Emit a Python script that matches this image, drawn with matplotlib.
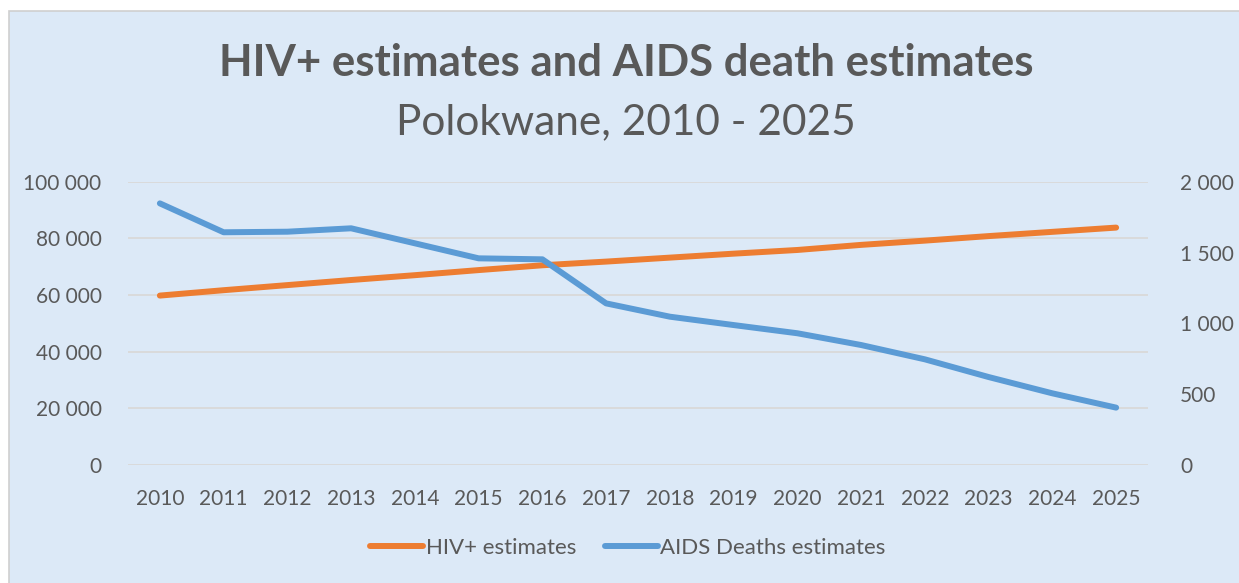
import matplotlib.pyplot as plt
from matplotlib.patches import Rectangle
from matplotlib.ticker import FuncFormatter

years = list(range(2010, 2026))
hiv_estimates = [59800, 61700, 63500, 65300, 67000, 68800, 70500, 71800,
                 73200, 74600, 75900, 77700, 79200, 80800, 82300, 83800]
aids_deaths = [1847, 1643, 1647, 1671, 1565, 1459, 1452, 1141,
               1047, 988, 930, 847, 746, 621, 506, 405]

txt = '#595959'
plt.rcParams['font.family'] = ['Lato', 'DejaVu Sans']

fig = plt.figure(figsize=(12.39, 5.83), dpi=100)
fig.patch.set_facecolor('white')

# chart background frame (runs off the right and bottom edges)
W, H = 1239, 583
bg = Rectangle((9 / W, -0.05), 1.1, 1.05 - 11 / H, transform=fig.transFigure,
               facecolor='#dce9f7', edgecolor='#cfcfcf', linewidth=1.2, zorder=-10)
fig.patches.append(bg)

ax = fig.add_axes([128 / W, 1 - 465 / H, (1148 - 128) / W, (465 - 181.7) / H])
ax.patch.set_alpha(0)
ax2 = ax.twinx()

x = list(range(len(years)))
l1, = ax.plot(x, hiv_estimates, color='#ed7d31', linewidth=4.3,
              solid_capstyle='round', label='HIV+ estimates', zorder=3)
l2, = ax2.plot(x, aids_deaths, color='#5b9bd5', linewidth=4.3,
               solid_capstyle='round', label='AIDS Deaths estimates', zorder=3)

ax.set_xlim(-0.5, len(years) - 0.5)
ax.set_ylim(0, 100000)
ax2.set_ylim(0, 2000)
ax.set_yticks(range(0, 100001, 20000))
ax2.set_yticks(range(0, 2001, 500))

fmt = FuncFormatter(lambda v, p: f'{int(v):,}'.replace(',', ' '))
ax.yaxis.set_major_formatter(fmt)
ax2.yaxis.set_major_formatter(fmt)

ax.set_xticks(x)
ax.set_xticklabels([str(y) for y in years])
ax.grid(axis='y', color='#d9d9d9', linewidth=1.3)
ax.set_axisbelow(True)

for a in (ax, ax2):
    for s in a.spines.values():
        s.set_visible(False)
    a.tick_params(length=0, colors=txt, labelsize=15)
ax.tick_params(axis='y', pad=19)
ax2.tick_params(axis='y', pad=23)
ax.tick_params(axis='x', pad=17)

fig.text(626 / W, 1 - 63 / H, 'HIV+ estimates and AIDS death estimates',
         ha='center', va='center', fontsize=31.5, fontweight='bold', color=txt)
fig.text(626 / W, 1 - 122 / H, 'Polokwane, 2010 - 2025',
         ha='center', va='center', fontsize=30.5, color=txt)

fig.legend(handles=[l1, l2], loc='center', bbox_to_anchor=(628 / W, 1 - 548 / H),
           ncol=2, frameon=False, fontsize=16, labelcolor=txt,
           handlelength=2.4, handletextpad=0.1, columnspacing=1.3)

fig.savefig('out.png', dpi=100)
